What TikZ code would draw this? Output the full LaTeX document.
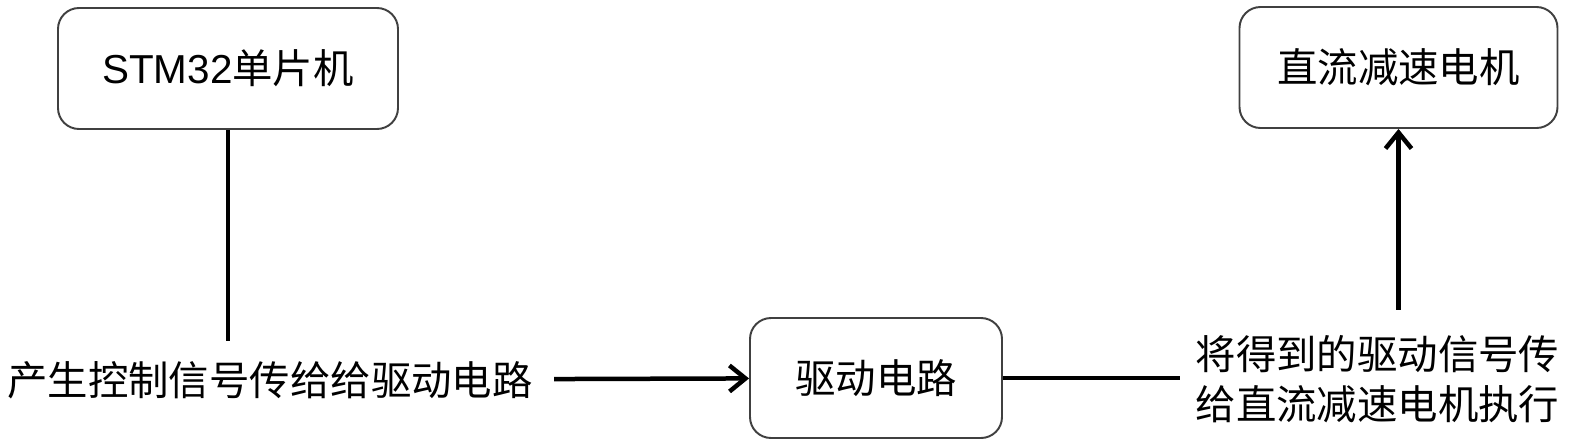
\documentclass[tikz,border=0pt]{standalone}
\usepackage{fontspec}
\setmainfont{Liberation Sans}
\newfontfamily\cjk{Noto Sans CJK SC}
\usetikzlibrary{arrows.meta,positioning}

\tikzset{
  block/.style={draw=black!75, line width=1.1pt, rounded corners=0.42cm, fill=white,
    font=\fontsize{23}{28.45}\selectfont},
  note/.style={font=\cjk\fontsize{23}{28.45}\selectfont},
  link/.style={line width=0.09cm, draw=black},
  tip/.style={-{Straight Barb[length=0.32cm,width=0.52cm]}}
}

\begin{document}
\begin{tikzpicture}[x=1cm, y=1cm]
  \useasboundingbox (0,0) rectangle (31.4,8.88);
  \node (mcu) [block, minimum width=6.8cm, minimum height=2.42cm] at (4.56,7.51) {STM32{\cjk 单片机}}; 
  \node (motor) [block, minimum width=6.36cm, minimum height=2.42cm] at (27.97,7.53) {\cjk 直流减速电机}; 
  \node (drv) [block, minimum width=5.04cm, minimum height=2.4cm] at (17.52,1.32) {\cjk 驱动电路}; 
  \node (ctrl) [note, inner xsep=0.42cm, inner ysep=0.4cm] at (5.4,1.28) {产生控制信号传给给驱动电路}; 
  \node (exec) [note, align=center, inner xsep=0.3cm, inner ysep=0.5cm,
    font=\cjk\fontsize{23}{1cm}\selectfont] at (27.55,1.3) {将得到的驱动信号传\\给直流减速电机执行}; 
  \path[link]
    (mcu) edge (mcu |- ctrl.north)
    (drv) edge (exec.west |- drv)
    (ctrl) edge[tip] (drv)
    (exec.north -| motor) edge[tip] (motor);
\end{tikzpicture}
\end{document}
